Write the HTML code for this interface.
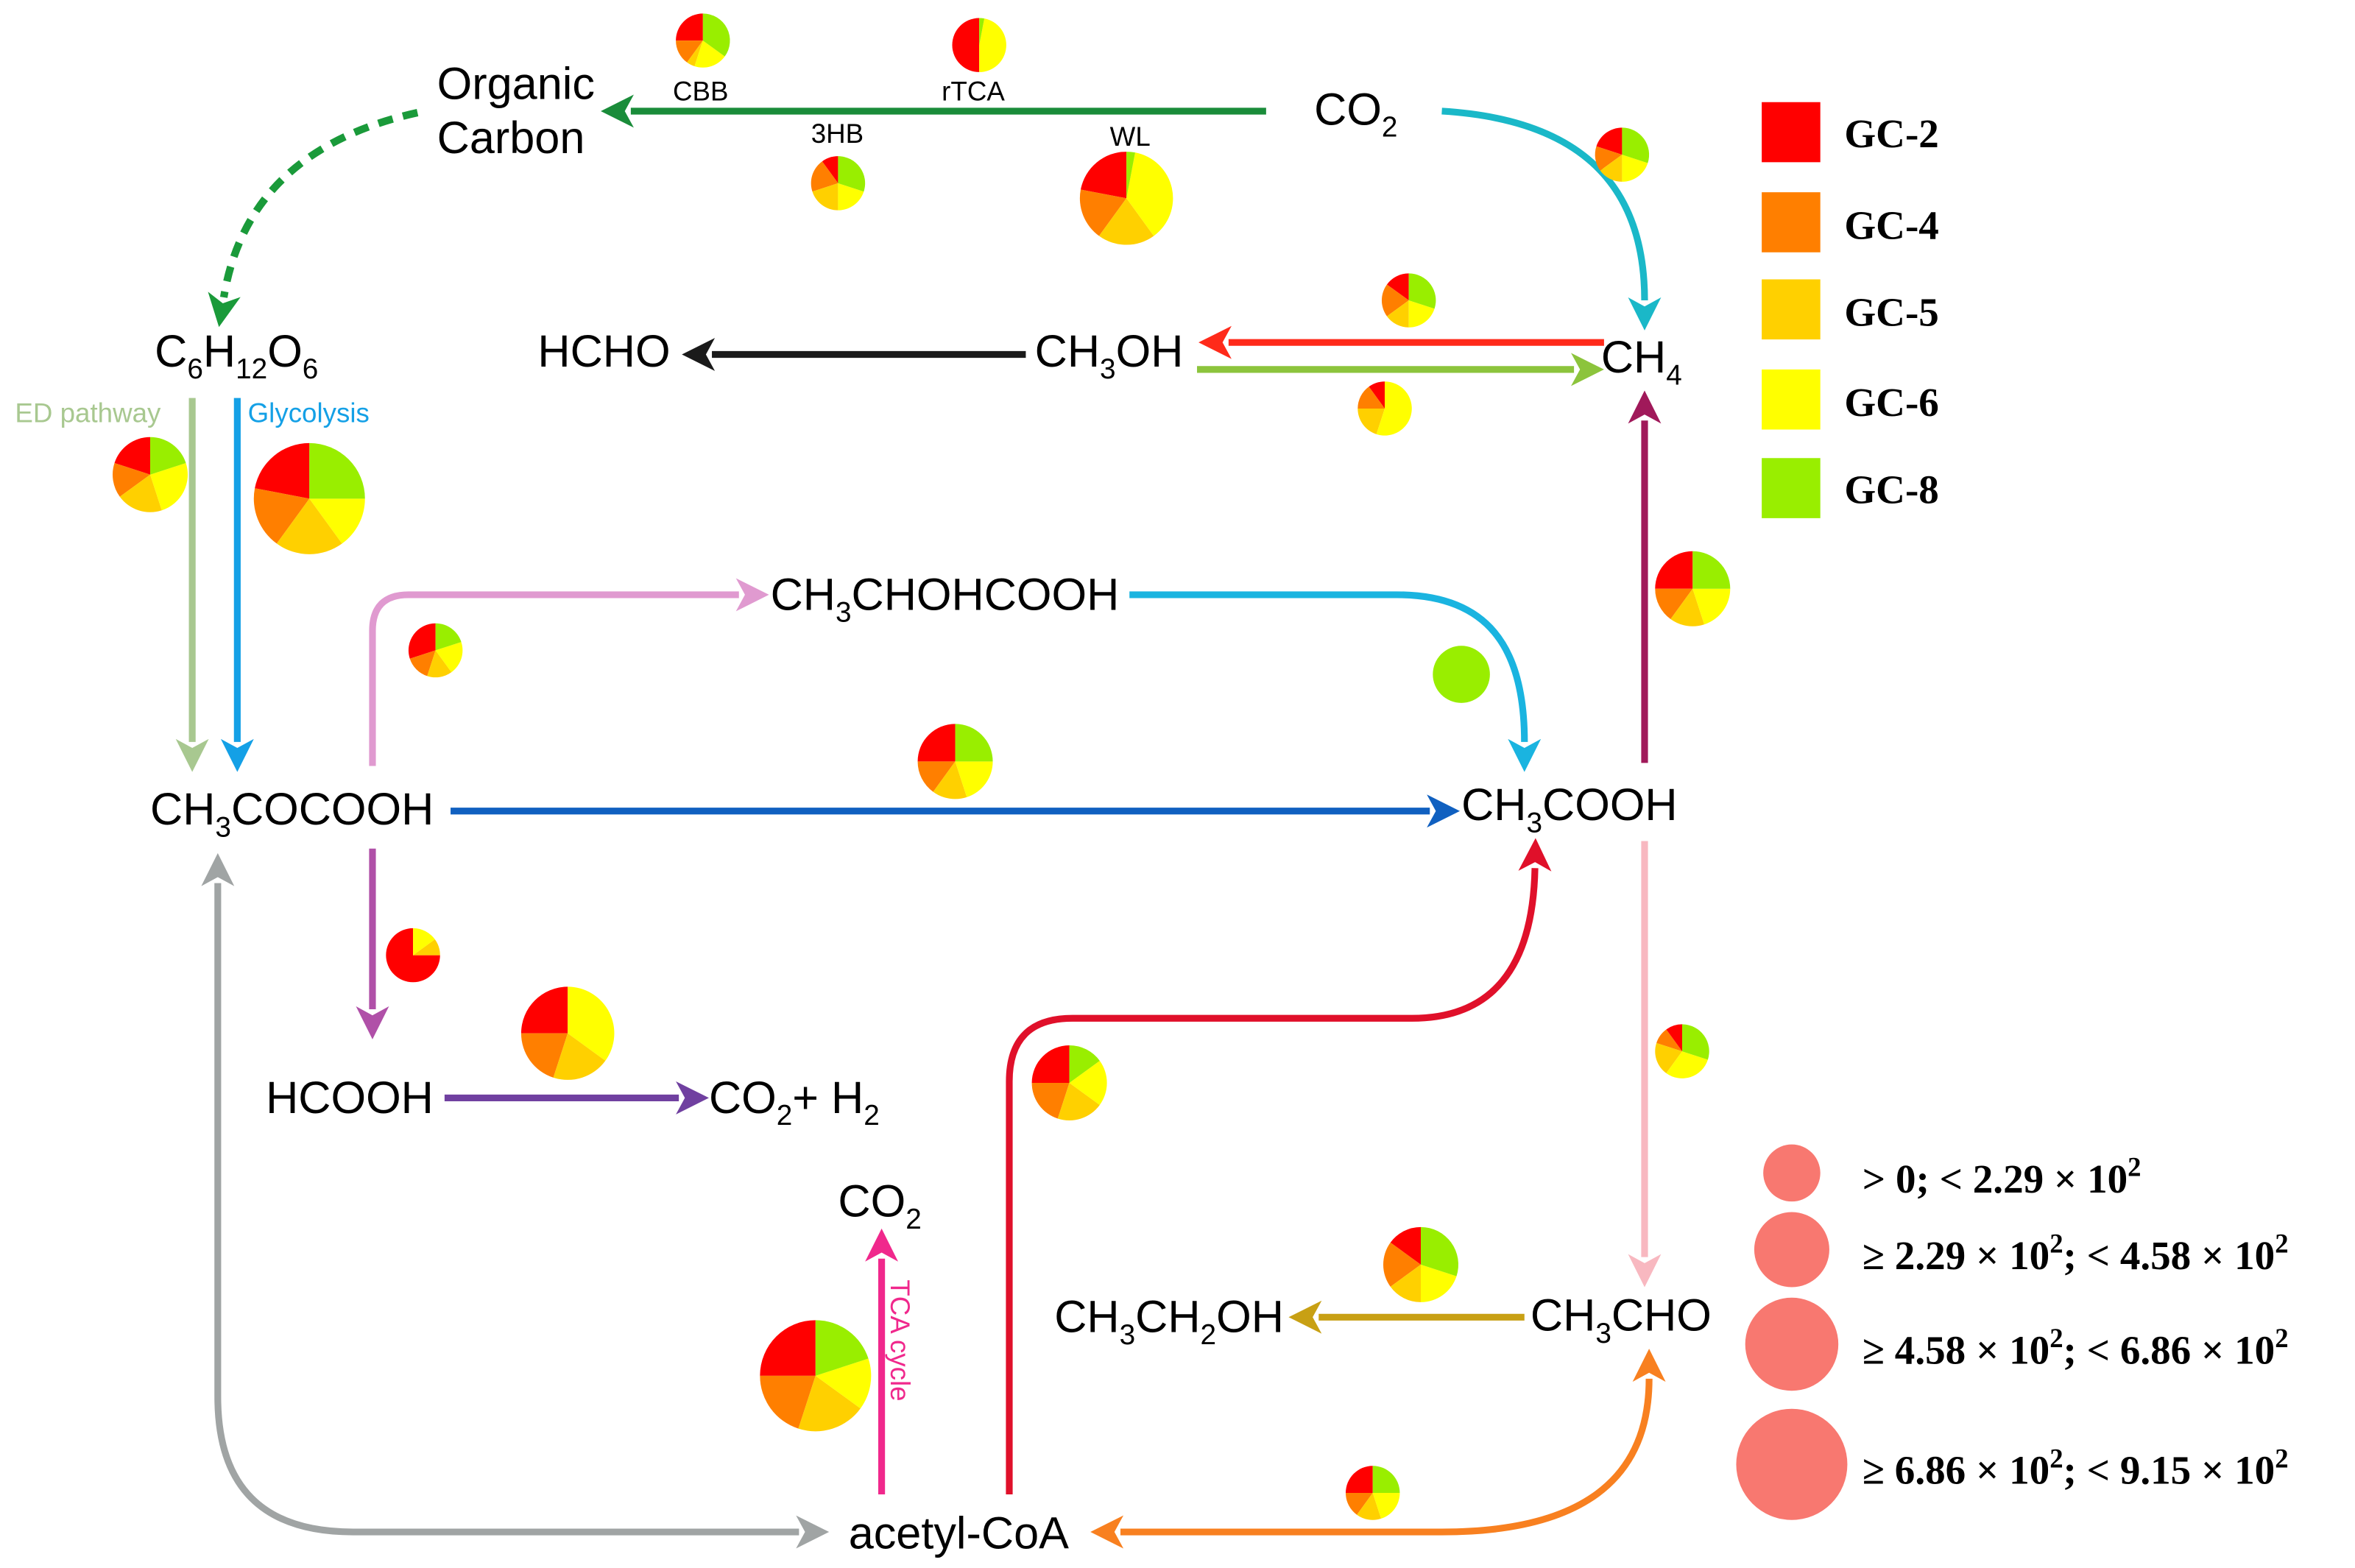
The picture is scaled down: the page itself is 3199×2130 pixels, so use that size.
<!DOCTYPE html>
<html><head><meta charset="utf-8"><style>
html,body{margin:0;padding:0;background:#fff;}
svg{display:block;}
text{font-family:"Liberation Sans",sans-serif;fill:#000;}
.s{font-family:"Liberation Serif",serif;font-weight:bold;}
</style></head><body>
<svg id="sv" xmlns="http://www.w3.org/2000/svg" width="3199" height="2130" viewBox="0 0 1568 1044" preserveAspectRatio="none">
<defs id="defs"></defs>
<g fill="none" stroke-width="4.5">
<path d="M843,74 L420,74" stroke="#1a8c3a" marker-end="url(#m1a8c3a)"/>
<path d="M278,75 Q165,100 149,198" stroke="#1a9a3a" stroke-dasharray="10,7" stroke-width="5" marker-end="url(#m1a9a3a)"/>
<path d="M960,74 C1060,80 1095,130 1095,200" stroke="#1ab8c8" marker-end="url(#m1ab8c8)"/>
<path d="M1068,228 L818,228" stroke="#ff2a1a" marker-end="url(#mff2a1a)"/>
<path d="M797,246 L1048,246" stroke="#8cc43c" marker-end="url(#m8cc43c)"/>
<path d="M683,236 L474,236" stroke="#1a1a1a" marker-end="url(#m1a1a1a)"/>
<path d="M1095,508 L1095,280" stroke="#a0195a" marker-end="url(#ma0195a)"/>
<path d="M128,265 L128,494" stroke="#a8c890" marker-end="url(#ma8c890)"/>
<path d="M158,265 L158,494" stroke="#14a0e6" marker-end="url(#m14a0e6)"/>
<path d="M248,510 L248,420 Q248,396 272,396 L492,396" stroke="#e09ad0" marker-end="url(#me09ad0)"/>
<path d="M752,396 L930,396 C990,396 1015,430 1015,494" stroke="#1ab4e0" marker-end="url(#m1ab4e0)"/>
<path d="M300,540 L952,540" stroke="#1060c0" marker-end="url(#m1060c0)"/>
<path d="M248,565 L248,672" stroke="#b050a8" marker-end="url(#mb050a8)"/>
<path d="M296,731 L452,731" stroke="#7040a0" marker-end="url(#m7040a0)"/>
<path d="M145,588 L145,930 Q145,1020 235,1020 L532,1020" stroke="#a0a4a4" marker-start="url(#sa0a4a4)" marker-end="url(#ma0a4a4)"/>
<path d="M587,995 L587,838" stroke="#f0288c" marker-end="url(#mf0288c)"/>
<path d="M672,995 L672,720 Q672,678 714,678 L940,678 Q1020,678 1022,578" stroke="#e0102a" marker-end="url(#me0102a)"/>
<path d="M1095,560 L1095,837" stroke="#f8b8c0" marker-end="url(#mf8b8c0)"/>
<path d="M1015,877 L878,877" stroke="#c8a014" marker-end="url(#mc8a014)"/>
<path d="M746,1020 L960,1020 Q1098,1020 1098,918" stroke="#f88020" marker-start="url(#sf88020)" marker-end="url(#mf88020)"/>
</g>
<g id="pies"></g>
<g font-size="30">
<text x="291" y="66">Organic</text><text x="291" y="102">Carbon</text>
<text x="875" y="83">CO<tspan font-size="19" dy="8">2</tspan></text>
<text x="103" y="244">C<tspan font-size="19" dy="8">6</tspan><tspan dy="-8">H</tspan><tspan font-size="19" dy="8">12</tspan><tspan dy="-8">O</tspan><tspan font-size="19" dy="8">6</tspan></text>
<text x="358" y="244">HCHO</text>
<text x="689" y="244">CH<tspan font-size="19" dy="8">3</tspan><tspan dy="-8">OH</tspan></text>
<text x="1066" y="248">CH<tspan font-size="19" dy="8">4</tspan></text>
<text x="513" y="406">CH<tspan font-size="19" dy="8">3</tspan><tspan dy="-8">CHOHCOOH</tspan></text>
<text x="100" y="549">CH<tspan font-size="19" dy="8">3</tspan><tspan dy="-8">COCOOH</tspan></text>
<text x="973" y="546">CH<tspan font-size="19" dy="8">3</tspan><tspan dy="-8">COOH</tspan></text>
<text x="177" y="741">HCOOH</text>
<text x="472" y="741">CO<tspan font-size="19" dy="8">2</tspan><tspan dy="-8">+ H</tspan><tspan font-size="19" dy="8">2</tspan></text>
<text x="558" y="810">CO<tspan font-size="19" dy="8">2</tspan></text>
<text x="702" y="887">CH<tspan font-size="19" dy="8">3</tspan><tspan dy="-8">CH</tspan><tspan font-size="19" dy="8">2</tspan><tspan dy="-8">OH</tspan></text>
<text x="1019" y="886">CH<tspan font-size="19" dy="8">3</tspan><tspan dy="-8">CHO</tspan></text>
<text x="565" y="1031">acetyl-CoA</text>
</g>
<g font-size="18">
<text x="448" y="67">CBB</text><text x="627" y="67">rTCA</text>
<text x="540" y="95">3HB</text><text x="739" y="97">WL</text>
<text x="10" y="281" style="fill:#a8c890">ED pathway</text>
<text x="165" y="281" style="fill:#14a0e6">Glycolysis</text>
<text transform="translate(593,852) rotate(90)" style="fill:#f0288c">TCA cycle</text>
</g>
<g>
<rect x="1173" y="68" width="39" height="40" fill="#ff0000"/>
<rect x="1173" y="128" width="39" height="40" fill="#ff7f00"/>
<rect x="1173" y="186" width="39" height="40" fill="#ffd000"/>
<rect x="1173" y="246" width="39" height="40" fill="#ffff00"/>
<rect x="1173" y="305" width="39" height="40" fill="#99ee00"/>
</g>
<g font-size="27">
<text class="s" x="1228" y="98">GC-2</text><text class="s" x="1228" y="159">GC-4</text>
<text class="s" x="1228" y="217">GC-5</text><text class="s" x="1228" y="277">GC-6</text>
<text class="s" x="1228" y="335">GC-8</text>
</g>
<g fill="#f87870">
<circle cx="1193" cy="781" r="19"/><circle cx="1193" cy="832" r="25"/>
<circle cx="1193" cy="895" r="31"/><circle cx="1193" cy="975" r="37"/>
</g>
<g font-size="27">
<text class="s" x="1240" y="794">&gt; 0; &lt; 2.29 × 10<tspan font-size="18" dy="-11">2</tspan></text>
<text class="s" x="1240" y="845">≥ 2.29 × 10<tspan font-size="18" dy="-11">2</tspan><tspan dy="11">; &lt; 4.58 × 10</tspan><tspan font-size="18" dy="-11">2</tspan></text>
<text class="s" x="1240" y="908">≥ 4.58 × 10<tspan font-size="18" dy="-11">2</tspan><tspan dy="11">; &lt; 6.86 × 10</tspan><tspan font-size="18" dy="-11">2</tspan></text>
<text class="s" x="1240" y="988">≥ 6.86 × 10<tspan font-size="18" dy="-11">2</tspan><tspan dy="11">; &lt; 9.15 × 10</tspan><tspan font-size="18" dy="-11">2</tspan></text>
</g>
</svg>
<script>
var cols=["1a8c3a","1a9a3a","1ab8c8","ff2a1a","8cc43c","1a1a1a","a0195a","a8c890","14a0e6","e09ad0","1ab4e0","1060c0","b050a8","7040a0","a0a4a4","f0288c","e0102a","f8b8c0","c8a014","f88020"];
var d="";
cols.forEach(function(c){
d+='<marker id="m'+c+'" markerUnits="userSpaceOnUse" markerWidth="24" markerHeight="22" refX="2" refY="11" orient="auto"><path d="M0,0 L22,11 L0,22 L6,11 Z" fill="#'+c+'"/></marker>';
d+='<marker id="s'+c+'" markerUnits="userSpaceOnUse" markerWidth="24" markerHeight="22" refX="22" refY="11" orient="auto"><path d="M24,0 L2,11 L24,22 L18,11 Z" fill="#'+c+'"/></marker>';
});
document.getElementById("defs").innerHTML=d;
var pc=["#ff0000","#ff7f00","#ffd000","#ffff00","#99ee00"];
var pies=[
[468,27,18,[.25,.15,.05,.2,.35]],[652,30,18,[.5,0,0,.47,.03]],[558,122,18,[.1,.2,.2,.2,.3]],
[750,132,31,[.22,.18,.2,.37,.03]],[1080,103,18,[.2,.15,.15,.2,.3]],[938,200,18,[.15,.2,.15,.2,.3]],
[922,272,18,[.1,.15,.2,.55,0]],[100,316,25,[.2,.15,.2,.25,.2]],[206,332,37,[.22,.18,.2,.15,.25]],
[290,433,18,[.3,.15,.15,.2,.2]],[973,449,19,[0,0,0,0,1]],[1127,392,25,[.25,.15,.15,.2,.25]],
[636,507,25,[.25,.15,.15,.2,.25]],[275,636,18,[.75,0,.1,.15,0]],[378,688,31,[.25,.2,.2,.35,0]],
[712,721,25,[.25,.2,.2,.2,.15]],[1120,700,18,[.1,.1,.2,.3,.3]],[946,842,25,[.15,.2,.15,.2,.3]],
[543,916,37,[.25,.2,.2,.15,.2]],[914,994,18,[.25,.15,.15,.2,.25]]];
var h="";
pies.forEach(function(p){
var cx=p[0],cy=p[1],r=p[2],a=0;
p[3].forEach(function(f,i){
if(f<=0)return;
if(f>=0.999){h+='<circle cx="'+cx+'" cy="'+cy+'" r="'+r+'" fill="'+pc[i]+'"/>';return;}
var a2=a+f*2*Math.PI;
var x1=cx-r*Math.sin(a),y1=cy-r*Math.cos(a),x2=cx-r*Math.sin(a2),y2=cy-r*Math.cos(a2);
h+='<path d="M'+cx+','+cy+' L'+x1+','+y1+' A'+r+','+r+' 0 '+(f>0.5?1:0)+',0 '+x2+','+y2+' Z" fill="'+pc[i]+'"/>';
a=a2;});
});
document.getElementById("pies").innerHTML=h;
</script>
</body></html>
